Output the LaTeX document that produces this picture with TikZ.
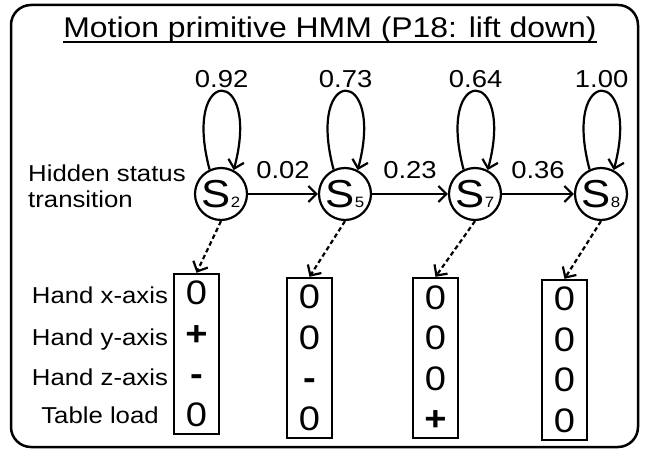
\documentclass[tikz,border=0pt]{standalone}
\usepackage{fontspec}
\setmainfont{Liberation Sans}[FakeStretch=1.12]
\usepackage{tikz}
\usetikzlibrary{shapes.geometric, arrows.meta}
\tikzstyle{state} = [circle, draw=black, line width=2.2pt, minimum size=52pt, inner sep=0pt, font=\fontsize{39}{39}\selectfont]
\tikzstyle{obsbox} = [rectangle, draw=black, line width=2.4pt, minimum width=45pt, minimum height=160pt, inner sep=0pt, align=center, font=\fontsize{34}{40.5}\selectfont]
\tikzstyle{rowlabel} = [font=\fontsize{23}{23}\selectfont, text height=17pt, text depth=5pt, inner sep=0pt]
\tikzstyle{prob} = [font=\fontsize{24.5}{24.5}\selectfont, inner sep=2pt]
\tikzstyle{arrow} = [line width=2.2pt,->,>={Straight Barb[length=8pt,width=16pt]}]
\tikzstyle{emit} = [arrow, dash pattern=on 4.5pt off 3pt]
\newcommand{\st}[1]{S{\fontsize{15}{15}\selectfont #1}}

\begin{document}
\begin{tikzpicture}[x=1pt, y=-1pt, node distance=126pt]
\useasboundingbox (0,0) rectangle (646,449);
\draw [line width=2.5pt, rounded corners=20pt] (11,5) rectangle (638,447);

\node (title) [anchor=base, inner sep=0pt, font=\fontsize{28.5}{28.5}\selectfont] at (330,38) {Motion primitive HMM (P18: lift down)};
\draw [line width=1.8pt] ([yshift=-4pt]title.base west) -- ([yshift=-4pt]title.base east);

\node (hidden) [anchor=west, inner sep=0pt, align=left, font=\fontsize{23}{26}\selectfont] at (28,186) {Hidden status\\transition};

\node (s2) [state] at (221,194) {\st{2}};
\node (s5) [state, right of=s2, xshift=-2] {\st{5}};
\node (s7) [state, right of=s5, xshift=4] {\st{7}};
\node (s8) [state, right of=s7] {\st{8}};

\node (b2) [obsbox, below of=s2, xshift=-24.5, yshift=-34] {0\\{\bfseries +}\\{\bfseries -}\\0};
\node (b5) [obsbox, below of=s5, xshift=-35.5, yshift=-38] {0\\0\\{\bfseries -}\\0};
\node (b7) [obsbox, below of=s7, xshift=-39.5, yshift=-38] {0\\0\\0\\{\bfseries +}};
\node (b8) [obsbox, below of=s8, xshift=-36.5, yshift=-40] {0\\0\\0\\0};

\node (hx) [rowlabel] at (100,297.5) {Hand x-axis};
\node (hy) [rowlabel] at (100,339) {Hand y-axis};
\node (hz) [rowlabel] at (100,379) {Hand z-axis};
\node (tl) [rowlabel] at (100,417) {Table load};

% self transitions
\draw [arrow] (s2.115) .. controls +(-28,-105) and +(28,-105) .. (s2.62) node [prob, above, pos=0.5] {0.92};
\draw [arrow] (s5.115) .. controls +(-28,-105) and +(28,-105) .. (s5.62) node [prob, above, pos=0.5] {0.73};
\draw [arrow] (s7.115) .. controls +(-28,-105) and +(28,-105) .. (s7.62) node [prob, above, pos=0.5] {0.64};
\draw [arrow] (s8.115) .. controls +(-28,-105) and +(28,-105) .. (s8.62) node [prob, above, pos=0.5] {1.00};

\draw [arrow] (s2) -- node [prob, above=12pt] {0.02} (s5);
\draw [arrow] (s5) -- node [prob, above=12pt] {0.23} (s7);
\draw [arrow] (s7) -- node [prob, above=12pt] {0.36} (s8);

\draw [emit] (s2.south) -- (b2.north);
\draw [emit] (s5.south) -- (b5.north);
\draw [emit] (s7.south) -- (b7.north);
\draw [emit] (s8.south) -- (b8.north);
\end{tikzpicture}
\end{document}
